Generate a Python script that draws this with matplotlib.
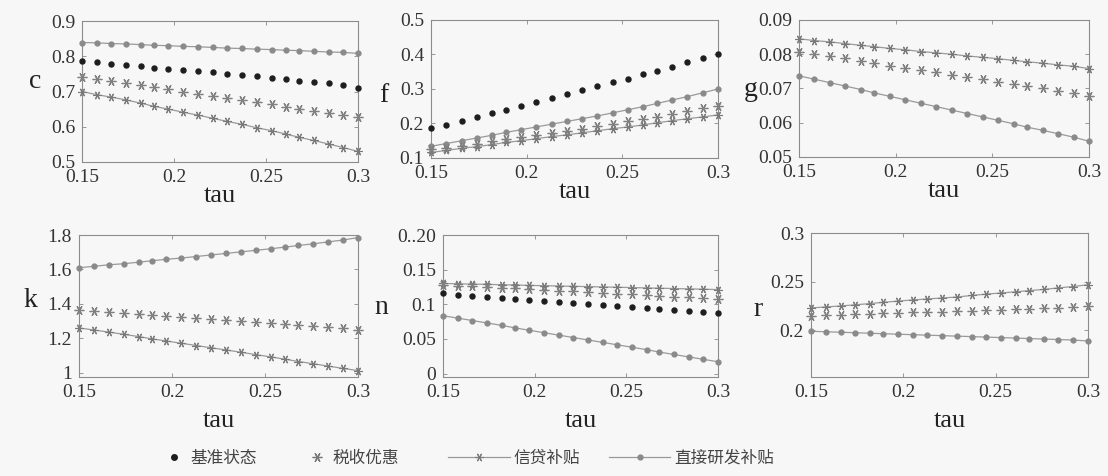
import matplotlib
matplotlib.use("Agg")
import matplotlib.pyplot as plt
from matplotlib.lines import Line2D
import numpy as np

tau = [0.15, 0.158, 0.166, 0.174, 0.182, 0.189, 0.197, 0.205, 0.213, 0.221,
       0.229, 0.237, 0.245, 0.253, 0.261, 0.268, 0.276, 0.284, 0.292, 0.30]

series_names = ["基准状态", "税收优惠", "信贷补贴", "直接研发补贴"]

# panel c
c_bench = [0.786, 0.784, 0.779, 0.776, 0.773, 0.768, 0.765, 0.761, 0.758, 0.754,
           0.750, 0.746, 0.743, 0.739, 0.735, 0.731, 0.728, 0.723, 0.718, 0.711]
c_tax = [0.742, 0.736, 0.731, 0.725, 0.718, 0.712, 0.706, 0.699, 0.693, 0.687,
         0.681, 0.675, 0.669, 0.664, 0.657, 0.651, 0.646, 0.640, 0.634, 0.629]
c_credit = [0.700, 0.691, 0.684, 0.676, 0.667, 0.658, 0.650, 0.641, 0.633, 0.624,
            0.615, 0.607, 0.597, 0.589, 0.579, 0.570, 0.561, 0.551, 0.541, 0.530]
c_direct = [0.839, 0.838, 0.836, 0.835, 0.833, 0.831, 0.830, 0.828, 0.827, 0.825,
            0.823, 0.822, 0.820, 0.819, 0.817, 0.816, 0.814, 0.812, 0.811, 0.808]

# panel f
f_bench = [0.186, 0.197, 0.208, 0.219, 0.229, 0.240, 0.250, 0.262, 0.275, 0.286,
           0.298, 0.309, 0.320, 0.329, 0.344, 0.353, 0.365, 0.379, 0.389, 0.400]
f_tax = [0.125, 0.130, 0.136, 0.142, 0.148, 0.154, 0.160, 0.166, 0.172, 0.178,
         0.185, 0.192, 0.199, 0.206, 0.213, 0.220, 0.228, 0.236, 0.244, 0.252]
f_credit = [0.116, 0.122, 0.128, 0.133, 0.139, 0.145, 0.150, 0.156, 0.162, 0.167,
            0.173, 0.179, 0.185, 0.190, 0.196, 0.202, 0.208, 0.214, 0.219, 0.225]
f_direct = [0.134, 0.142, 0.150, 0.158, 0.166, 0.174, 0.182, 0.190, 0.198, 0.206,
            0.214, 0.222, 0.231, 0.240, 0.249, 0.258, 0.268, 0.278, 0.289, 0.300]

# panel g (no benchmark shown)
g_bench = None
g_tax = [0.0808, 0.0801, 0.0794, 0.0788, 0.0781, 0.0774, 0.0767, 0.0760, 0.0753, 0.0747,
         0.0740, 0.0733, 0.0727, 0.0720, 0.0713, 0.0707, 0.0700, 0.0694, 0.0687, 0.0678]
g_credit = [0.0845, 0.0840, 0.0836, 0.0831, 0.0826, 0.0822, 0.0817, 0.0813, 0.0808, 0.0804,
            0.0800, 0.0795, 0.0791, 0.0787, 0.0782, 0.0778, 0.0774, 0.0769, 0.0765, 0.0758]
g_direct = [0.0737, 0.0727, 0.0717, 0.0707, 0.0697, 0.0687, 0.0677, 0.0667, 0.0657, 0.0647,
            0.0637, 0.0627, 0.0617, 0.0607, 0.0597, 0.0587, 0.0578, 0.0568, 0.0558, 0.0546]

# panel k (no benchmark shown)
k_bench = None
k_tax = [1.366, 1.360, 1.354, 1.348, 1.342, 1.336, 1.330, 1.324, 1.318, 1.312,
         1.306, 1.300, 1.294, 1.288, 1.282, 1.276, 1.270, 1.264, 1.258, 1.250]
k_credit = [1.260, 1.248, 1.236, 1.223, 1.210, 1.197, 1.184, 1.171, 1.158, 1.145,
            1.132, 1.119, 1.105, 1.092, 1.078, 1.065, 1.052, 1.038, 1.025, 1.012]
k_direct = [1.610, 1.618, 1.627, 1.633, 1.642, 1.650, 1.659, 1.666, 1.675, 1.684,
            1.693, 1.702, 1.711, 1.720, 1.730, 1.739, 1.749, 1.760, 1.771, 1.785]

# panel n
n_bench = [0.1156, 0.1141, 0.1126, 0.1111, 0.1096, 0.1082, 0.1067, 0.1052, 0.1037, 0.1022,
           0.1008, 0.0993, 0.0978, 0.0964, 0.0949, 0.0934, 0.0919, 0.0904, 0.0889, 0.0874]
n_tax = [0.1280, 0.1270, 0.1260, 0.1250, 0.1240, 0.1230, 0.1220, 0.1208, 0.1197, 0.1186,
         0.1175, 0.1164, 0.1153, 0.1142, 0.1131, 0.1120, 0.1109, 0.1098, 0.1087, 0.1076]
n_credit = [0.1300, 0.1296, 0.1291, 0.1287, 0.1282, 0.1278, 0.1273, 0.1268, 0.1264, 0.1259,
            0.1255, 0.1250, 0.1246, 0.1241, 0.1236, 0.1232, 0.1227, 0.1222, 0.1218, 0.1212]
n_direct = [0.0835, 0.0800, 0.0765, 0.0730, 0.0695, 0.0660, 0.0625, 0.0590, 0.0555, 0.0520,
            0.0485, 0.0450, 0.0415, 0.0380, 0.0345, 0.0310, 0.0275, 0.0240, 0.0205, 0.0170]

# panel r (no benchmark shown)
r_bench = None
r_tax = [0.2148, 0.2153, 0.2158, 0.2163, 0.2168, 0.2173, 0.2178, 0.2183, 0.2188, 0.2193,
         0.2198, 0.2203, 0.2208, 0.2213, 0.2218, 0.2223, 0.2228, 0.2233, 0.2238, 0.2245]
r_credit = [0.2230, 0.2240, 0.2250, 0.2262, 0.2275, 0.2287, 0.2300, 0.2312, 0.2322, 0.2332,
            0.2342, 0.2358, 0.2372, 0.2384, 0.2396, 0.2408, 0.2420, 0.2436, 0.2450, 0.2468]
r_direct = [0.1990, 0.1985, 0.1980, 0.1975, 0.1970, 0.1965, 0.1960, 0.1955, 0.1950, 0.1945,
            0.1940, 0.1935, 0.1930, 0.1925, 0.1920, 0.1915, 0.1910, 0.1905, 0.1900, 0.1890]

x_ticks = [0.15, 0.2, 0.25, 0.3]
x_ticklabels = ["0.15", "0.2", "0.25", "0.3"]

panels = [
    dict(name="c", bench=c_bench, tax=c_tax, credit=c_credit, direct=c_direct,
         ylim=(0.5, 0.9), yticks=[0.5, 0.6, 0.7, 0.8, 0.9],
         yticklabels=["0.5", "0.6", "0.7", "0.8", "0.9"],
         rect=[82, 21, 358, 162], ylab=(-0.17, 0.57), xlab_y=-0.16),
    dict(name="f", bench=f_bench, tax=f_tax, credit=f_credit, direct=f_direct,
         ylim=(0.1, 0.5), yticks=[0.1, 0.2, 0.3, 0.4, 0.5],
         yticklabels=["0.1", "0.2", "0.3", "0.4", "0.5"],
         rect=[431, 20, 718, 158], ylab=(-0.165, 0.45), xlab_y=-0.17),
    dict(name="g", bench=g_bench, tax=g_tax, credit=g_credit, direct=g_direct,
         ylim=(0.05, 0.09), yticks=[0.05, 0.06, 0.07, 0.08, 0.09],
         yticklabels=["0.05", "0.06", "0.07", "0.08", "0.09"],
         rect=[799, 20, 1089, 157], ylab=(-0.165, 0.49), xlab_y=-0.17),
    dict(name="k", bench=k_bench, tax=k_tax, credit=k_credit, direct=k_direct,
         ylim=(0.975, 1.8), yticks=[1.0, 1.2, 1.4, 1.6, 1.8],
         yticklabels=["1", "1.2", "1.4", "1.6", "1.8"],
         rect=[79, 235, 358, 377], ylab=(-0.175, 0.54), xlab_y=-0.23),
    dict(name="n", bench=n_bench, tax=n_tax, credit=n_credit, direct=n_direct,
         ylim=(-0.005, 0.2), yticks=[0.0, 0.05, 0.1, 0.15, 0.2],
         yticklabels=["0", "0.05", "0.1", "0.15", "0..20"],
         rect=[443, 235, 718, 377], ylab=(-0.225, 0.49), xlab_y=-0.23),
    dict(name="r", bench=r_bench, tax=r_tax, credit=r_credit, direct=r_direct,
         ylim=(0.152, 0.3), yticks=[0.2, 0.25, 0.3],
         yticklabels=["0.2", "0.25", "0.3"],
         rect=[811, 233, 1088, 377], ylab=(-0.19, 0.47), xlab_y=-0.23),
]

W, H = 1108, 476
bg = "#f7f7f7"
serif = ["Liberation Serif", "DejaVu Serif"]
cjk = ["Noto Sans CJK SC", "DejaVu Sans"]

fig = plt.figure(figsize=(W / 100, H / 100), dpi=100, facecolor=bg)

c_black = "#1e1e1e"
c_gray = "#8a8a8a"
c_line = "#9a9a9a"
ast = (6, 2, 90)

for p in panels:
    l, t, r, b = p["rect"]
    ax = fig.add_axes([l / W, 1 - b / H, (r - l) / W, (b - t) / H], facecolor=bg)
    ax.plot(tau, p["direct"], color=c_line, lw=0.9, marker="o", ms=3.5,
            mfc=c_gray, mec=c_gray, clip_on=False, zorder=3)
    ax.plot(tau, p["credit"], color=c_line, lw=0.9, marker=ast, ms=6,
            mec="#7a7a7a", mew=0.8, clip_on=False, zorder=3)
    ax.plot(tau, p["tax"], ls="none", marker=ast, ms=7, mec="#808080",
            mew=0.9, clip_on=False, zorder=3)
    if p["bench"] is not None:
        ax.plot(tau, p["bench"], ls="none", marker="o", ms=3.6, mfc=c_black,
                mec=c_black, clip_on=False, zorder=4)
    ax.set_xlim(0.15, 0.30)
    ax.set_ylim(*p["ylim"])
    ax.set_xticks(x_ticks)
    ax.set_xticklabels(x_ticklabels, family=serif, fontsize=14, color="#333333")
    ax.set_yticks(p["yticks"])
    ax.set_yticklabels(p["yticklabels"], family=serif, fontsize=14, color="#333333")
    ax.tick_params(direction="in", top=True, right=True, length=3, width=0.6,
                   color="#888888")
    ax.tick_params(axis="x", pad=5)
    ax.tick_params(axis="y", pad=5)
    for s in ax.spines.values():
        s.set_color("#8c8c8c")
        s.set_linewidth(0.8)
    ax.set_xlabel("tau", family=serif, fontsize=19, color="#222222")
    ax.xaxis.set_label_coords(0.5, p["xlab_y"])
    ax.set_ylabel(p["name"], family=serif, fontsize=20, color="#222222",
                  rotation=0, va="center", ha="center")
    ax.yaxis.set_label_coords(*p["ylab"])

# legend: markers-only entries
h1 = [Line2D([], [], ls="none", marker="o", ms=4, mfc=c_black, mec=c_black),
      Line2D([], [], ls="none", marker=ast, ms=7, mec="#777777", mew=0.9)]
leg1 = fig.legend(h1, series_names[:2], loc="center left",
                  bbox_to_anchor=(166 / W, 1 - 458 / H), ncol=2, frameon=False,
                  handlelength=1.0, handletextpad=0.45, columnspacing=3.1,
                  borderpad=0, borderaxespad=0,
                  prop=dict(family=cjk, size=12))
for t in leg1.get_texts():
    t.set_color("#444444")

h2 = [Line2D([], [], color=c_line, lw=0.9, marker=ast, ms=6, mec="#7a7a7a", mew=0.8),
      Line2D([], [], color=c_line, lw=0.9, marker="o", ms=3.5, mfc=c_gray, mec=c_gray)]
leg2 = fig.legend(h2, series_names[2:], loc="center left",
                  bbox_to_anchor=(448 / W, 1 - 458 / H), ncol=2, frameon=False,
                  handlelength=3.7, handletextpad=0.25, columnspacing=1.7,
                  borderpad=0, borderaxespad=0,
                  prop=dict(family=cjk, size=12))
for t in leg2.get_texts():
    t.set_color("#444444")

fig.savefig("out.png", dpi=100, facecolor=bg)
